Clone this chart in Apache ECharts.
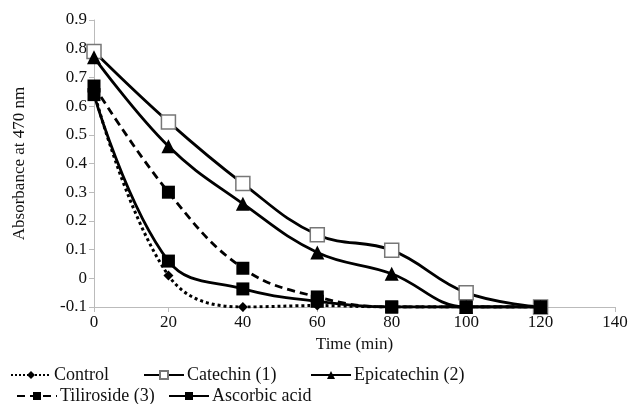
<!DOCTYPE html>
<html>
<head>
    <meta charset="utf-8">
    <title>Absorbance at 470 nm</title>
    <script src="https://cdn.jsdelivr.net/npm/echarts@6/dist/echarts.min.js"></script>
    <style>
        html, body { margin: 0; padding: 0; background: #fff; }
        #chart { width: 632px; height: 404px; }
    </style>
</head>
<body>
    <div id="chart"></div>
    <script>
        // 数据
        const times = [0, 20, 40, 60, 80, 100, 120];
        const control = [0.65, 0.01, -0.1, -0.095, -0.1, -0.1, -0.1];
        const catechin = [0.79, 0.545, 0.33, 0.152, 0.098, -0.05, -0.1];
        const epicatechin = [0.77, 0.46, 0.26, 0.09, 0.016, -0.1, -0.1];
        const tiliroside = [0.67, 0.30, 0.035, -0.065, -0.1, -0.1, -0.1];
        const ascorbic = [0.64, 0.06, -0.037, -0.08, -0.1, -0.1, -0.1];

        const font = 'Liberation Serif';
        const pairs = arr => times.map((t, i) => [t, arr[i]]);

        // 每个图例单独放置
        function legendAt(name, left, top) {
            return {
                data: [name],
                left: left,
                top: top,
                padding: 0,
                itemWidth: 40,
                itemHeight: 10,
                textStyle: { fontFamily: font, fontSize: 18, color: '#111', padding: [0, 0, 0, -2] }
            };
        }

        const chart = echarts.init(document.getElementById('chart'));
        chart.setOption({
            animation: false,
            grid: { left: 94, right: 17, top: 20, bottom: 97 },
            legend: [
                legendAt('Control', 10, 366),
                legendAt('Catechin (1)', 143, 366),
                legendAt('Epicatechin (2)', 310, 366),
                legendAt('Tiliroside (3)', 16, 387),
                legendAt('Ascorbic acid', 168, 387)
            ],
            xAxis: {
                type: 'value',
                min: 0, max: 140, interval: 20,
                name: 'Time (min)',
                nameLocation: 'middle',
                nameGap: 29,
                nameTextStyle: { fontFamily: font, fontSize: 17, color: '#111' },
                axisLine: { onZero: false, lineStyle: { color: '#bbb' } },
                axisTick: { show: true, lineStyle: { color: '#bbb' } },
                axisLabel: { fontFamily: font, fontSize: 17, color: '#111', margin: 7 },
                splitLine: { show: false }
            },
            yAxis: {
                type: 'value',
                min: -0.1, max: 0.9, interval: 0.1,
                name: 'Absorbance at 470 nm',
                nameLocation: 'middle',
                nameGap: 66,
                nameTextStyle: { fontFamily: font, fontSize: 17, color: '#111' },
                axisLine: { show: true, lineStyle: { color: '#bbb' } },
                axisTick: { show: true, lineStyle: { color: '#bbb' } },
                axisLabel: {
                    fontFamily: font, fontSize: 17, color: '#111', margin: 7,
                    formatter: v => (Math.round(v * 10) / 10).toString()
                },
                splitLine: { show: false }
            },
            series: [
                {
                    name: 'Control', type: 'line', smooth: 0.4, data: pairs(control),
                    symbol: 'diamond', symbolSize: 10,
                    lineStyle: { color: '#000', width: 3, type: 'dotted' },
                    itemStyle: { color: '#000' }, z: 2
                },
                {
                    name: 'Catechin (1)', type: 'line', smooth: 0.4, data: pairs(catechin),
                    symbol: 'rect', symbolSize: 14,
                    lineStyle: { color: '#000', width: 2.8 },
                    itemStyle: { color: '#fff', borderColor: '#777', borderWidth: 1.5 }, z: 3
                },
                {
                    name: 'Epicatechin (2)', type: 'line', smooth: 0.4, data: pairs(epicatechin),
                    symbol: 'triangle', symbolSize: 14,
                    lineStyle: { color: '#000', width: 2.8 },
                    itemStyle: { color: '#000' }, z: 4
                },
                {
                    name: 'Tiliroside (3)', type: 'line', smooth: 0.4, data: pairs(tiliroside),
                    symbol: 'rect', symbolSize: 13,
                    lineStyle: { color: '#000', width: 2.8, type: [8, 5] },
                    itemStyle: { color: '#000' }, z: 5
                },
                {
                    name: 'Ascorbic acid', type: 'line', smooth: 0.4, data: pairs(ascorbic),
                    symbol: 'rect', symbolSize: 13,
                    lineStyle: { color: '#000', width: 2.8 },
                    itemStyle: { color: '#000' }, z: 6
                }
            ]
        });
    </script>
</body>
</html>
